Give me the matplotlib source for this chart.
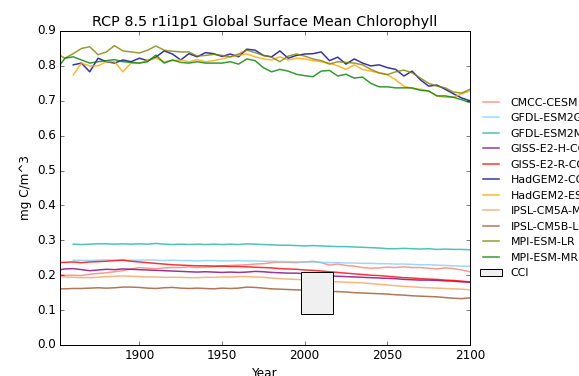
import numpy as np
import matplotlib
matplotlib.use('Agg')
import matplotlib.pyplot as plt
from matplotlib.patches import Rectangle

plt.style.use('classic')

# 5-year means
years = np.arange(1850, 2101, 5)        # 51 points
years_1860 = np.arange(1860, 2101, 5)   # 49 points

cmcc_cesm = [0.203, 0.2, 0.2, 0.199, 0.203, 0.205, 0.207, 0.21, 0.213, 0.218, 0.222,
             0.22, 0.219, 0.221, 0.222, 0.222, 0.224, 0.222, 0.223, 0.225, 0.227,
             0.228, 0.229, 0.23, 0.232, 0.233, 0.236, 0.238, 0.237, 0.236, 0.238,
             0.24, 0.236, 0.229, 0.232, 0.228, 0.226, 0.222, 0.22, 0.221, 0.223,
             0.222, 0.224, 0.222, 0.222, 0.22, 0.218, 0.221, 0.219, 0.215, 0.21]
gfdl_esm2g = [0.243, 0.243, 0.242, 0.243, 0.244, 0.243, 0.244, 0.243, 0.243,
              0.244, 0.243, 0.242, 0.243, 0.242, 0.242, 0.241, 0.242, 0.242, 0.241,
              0.241, 0.242, 0.241, 0.241, 0.24, 0.24, 0.239, 0.239, 0.238, 0.238,
              0.238, 0.237, 0.236, 0.236, 0.235, 0.235, 0.234, 0.234, 0.233, 0.233,
              0.232, 0.232, 0.231, 0.23, 0.23, 0.229, 0.228, 0.227, 0.226, 0.226]
gfdl_esm2m = [0.289, 0.288, 0.289, 0.29, 0.29, 0.289, 0.29, 0.289, 0.29,
              0.289, 0.291, 0.289, 0.288, 0.289, 0.288, 0.289, 0.288, 0.289, 0.288,
              0.289, 0.288, 0.29, 0.289, 0.288, 0.287, 0.286, 0.286, 0.285, 0.284,
              0.285, 0.284, 0.283, 0.282, 0.282, 0.281, 0.28, 0.279, 0.278, 0.276,
              0.276, 0.277, 0.276, 0.275, 0.276, 0.274, 0.275, 0.274, 0.274, 0.273]
giss_e2_h = [0.214, 0.218, 0.219, 0.216, 0.213, 0.215, 0.217, 0.216, 0.218, 0.217, 0.216,
             0.215, 0.214, 0.213, 0.212, 0.211, 0.21, 0.209, 0.21, 0.209, 0.208,
             0.209, 0.208, 0.209, 0.211, 0.21, 0.208, 0.207, 0.206, 0.206, 0.204,
             0.202, 0.2, 0.198, 0.197, 0.196, 0.195, 0.194, 0.193, 0.192, 0.191,
             0.19, 0.188, 0.187, 0.186, 0.186, 0.185, 0.184, 0.183, 0.181, 0.18]
giss_e2_r = [0.236, 0.237, 0.238, 0.236, 0.238, 0.239, 0.24, 0.242, 0.243, 0.24, 0.238,
             0.236, 0.234, 0.232, 0.23, 0.229, 0.228, 0.227, 0.227, 0.226, 0.226,
             0.225, 0.225, 0.224, 0.223, 0.222, 0.221, 0.219, 0.218, 0.217, 0.215,
             0.214, 0.212, 0.21, 0.208, 0.206, 0.204, 0.202, 0.2, 0.199, 0.197,
             0.195, 0.193, 0.192, 0.19, 0.189, 0.188, 0.186, 0.185, 0.183, 0.181]
hadgem2_cc = [0.803, 0.808, 0.783, 0.822, 0.812, 0.808, 0.817, 0.812, 0.822,
              0.815, 0.825, 0.843, 0.834, 0.817, 0.835, 0.826, 0.838, 0.835, 0.827,
              0.834, 0.826, 0.848, 0.845, 0.83, 0.826, 0.843, 0.822, 0.83, 0.834,
              0.835, 0.84, 0.815, 0.825, 0.805, 0.82, 0.808, 0.8, 0.803, 0.795,
              0.79, 0.771, 0.785, 0.76, 0.742, 0.745, 0.733, 0.72, 0.708, 0.7]
hadgem2_es = [0.774, 0.808, 0.8, 0.8, 0.812, 0.812, 0.783, 0.808, 0.808,
              0.815, 0.822, 0.812, 0.815, 0.817, 0.812, 0.818, 0.812, 0.815, 0.82,
              0.826, 0.83, 0.834, 0.826, 0.82, 0.817, 0.826, 0.817, 0.822, 0.82,
              0.815, 0.812, 0.808, 0.8, 0.79, 0.803, 0.79, 0.785, 0.78, 0.775,
              0.76, 0.742, 0.735, 0.733, 0.728, 0.714, 0.71, 0.71, 0.72, 0.728]
ipsl_cm5a_mr = [0.196, 0.195, 0.194, 0.193, 0.193, 0.194, 0.196, 0.197, 0.198, 0.197, 0.196,
                0.195, 0.195, 0.194, 0.194, 0.194, 0.193, 0.193, 0.194, 0.194, 0.195,
                0.195, 0.196, 0.196, 0.195, 0.194, 0.192, 0.19, 0.189, 0.188, 0.186,
                0.185, 0.183, 0.182, 0.181, 0.18, 0.179, 0.178, 0.176, 0.174, 0.172,
                0.17, 0.168, 0.167, 0.165, 0.164, 0.163, 0.162, 0.161, 0.16, 0.158]
ipsl_cm5b_lr = [0.161, 0.161, 0.162, 0.162, 0.163, 0.164, 0.163, 0.164, 0.166, 0.166, 0.165,
                0.163, 0.162, 0.164, 0.165, 0.163, 0.162, 0.163, 0.162, 0.161, 0.163,
                0.162, 0.163, 0.166, 0.165, 0.163, 0.161, 0.16, 0.159, 0.158, 0.157,
                0.156, 0.155, 0.154, 0.153, 0.152, 0.15, 0.149, 0.148, 0.147, 0.146,
                0.144, 0.143, 0.141, 0.14, 0.139, 0.138, 0.136, 0.134, 0.133, 0.135]
mpi_esm_lr = [0.835, 0.822, 0.835, 0.85, 0.855, 0.832, 0.84, 0.858, 0.843, 0.84, 0.837,
              0.845, 0.857, 0.845, 0.842, 0.84, 0.84, 0.828, 0.83, 0.833, 0.83,
              0.826, 0.834, 0.845, 0.838, 0.83, 0.825, 0.812, 0.828, 0.834, 0.828,
              0.82, 0.815, 0.805, 0.812, 0.81, 0.808, 0.803, 0.79, 0.78, 0.775,
              0.783, 0.788, 0.78, 0.765, 0.75, 0.742, 0.737, 0.725, 0.722, 0.733]
mpi_esm_mr = [0.79, 0.822, 0.826, 0.817, 0.808, 0.812, 0.815, 0.818, 0.812, 0.81, 0.808,
              0.812, 0.831, 0.808, 0.817, 0.81, 0.808, 0.812, 0.808, 0.808, 0.808,
              0.812, 0.805, 0.82, 0.815, 0.795, 0.783, 0.79, 0.785, 0.776, 0.772,
              0.769, 0.785, 0.787, 0.771, 0.776, 0.765, 0.768, 0.75, 0.74, 0.74,
              0.737, 0.737, 0.737, 0.73, 0.728, 0.714, 0.714, 0.71, 0.703, 0.695]

# CCI observation range
cci_years = [1998, 2017]
cci_range = [0.09, 0.21]

models = [
    ('CMCC-CESM', years, cmcc_cesm, 'salmon'),
    ('GFDL-ESM2G', years_1860, gfdl_esm2g, 'lightskyblue'),
    ('GFDL-ESM2M', years_1860, gfdl_esm2m, 'lightseagreen'),
    ('GISS-E2-H-CC', years, giss_e2_h, 'purple'),
    ('GISS-E2-R-CC', years, giss_e2_r, 'red'),
    ('HadGEM2-CC', years_1860, hadgem2_cc, 'darkblue'),
    ('HadGEM2-ES', years_1860, hadgem2_es, 'orange'),
    ('IPSL-CM5A-MR', years, ipsl_cm5a_mr, 'sandybrown'),
    ('IPSL-CM5B-LR', years, ipsl_cm5b_lr, 'sienna'),
    ('MPI-ESM-LR', years, mpi_esm_lr, 'olive'),
    ('MPI-ESM-MR', years, mpi_esm_mr, 'green'),
]

fig = plt.figure(figsize=(579 / 72, 376 / 72), dpi=72, facecolor='white')
ax = fig.add_axes([60 / 579, 31 / 376, 410 / 579, 314 / 376])

for name, x, y, c in models:
    ax.plot(x, y, color=c, lw=1.5, alpha=0.8, label=name)

ax.add_patch(Rectangle((cci_years[0], cci_range[0]), cci_years[1] - cci_years[0],
                       cci_range[1] - cci_range[0], facecolor='#f0f0f0',
                       edgecolor='black', lw=1, label='CCI', zorder=3))

ax.set_xlim(1852, 2100)
ax.set_ylim(0, 0.9)
ax.set_xticks([1900, 1950, 2000, 2050, 2100])
ax.set_yticks(np.arange(0, 0.91, 0.1))
ax.set_title('RCP 8.5 r1i1p1 Global Surface Mean Chlorophyll', fontsize=14.4)
ax.set_xlabel('Year', fontsize=12)
ax.set_ylabel('mg C/m^3', fontsize=12)

ax.legend(loc='center left', bbox_to_anchor=(1.0, 0.5), frameon=False, fontsize=11)

fig.savefig('out.png', dpi=72, facecolor='white')
